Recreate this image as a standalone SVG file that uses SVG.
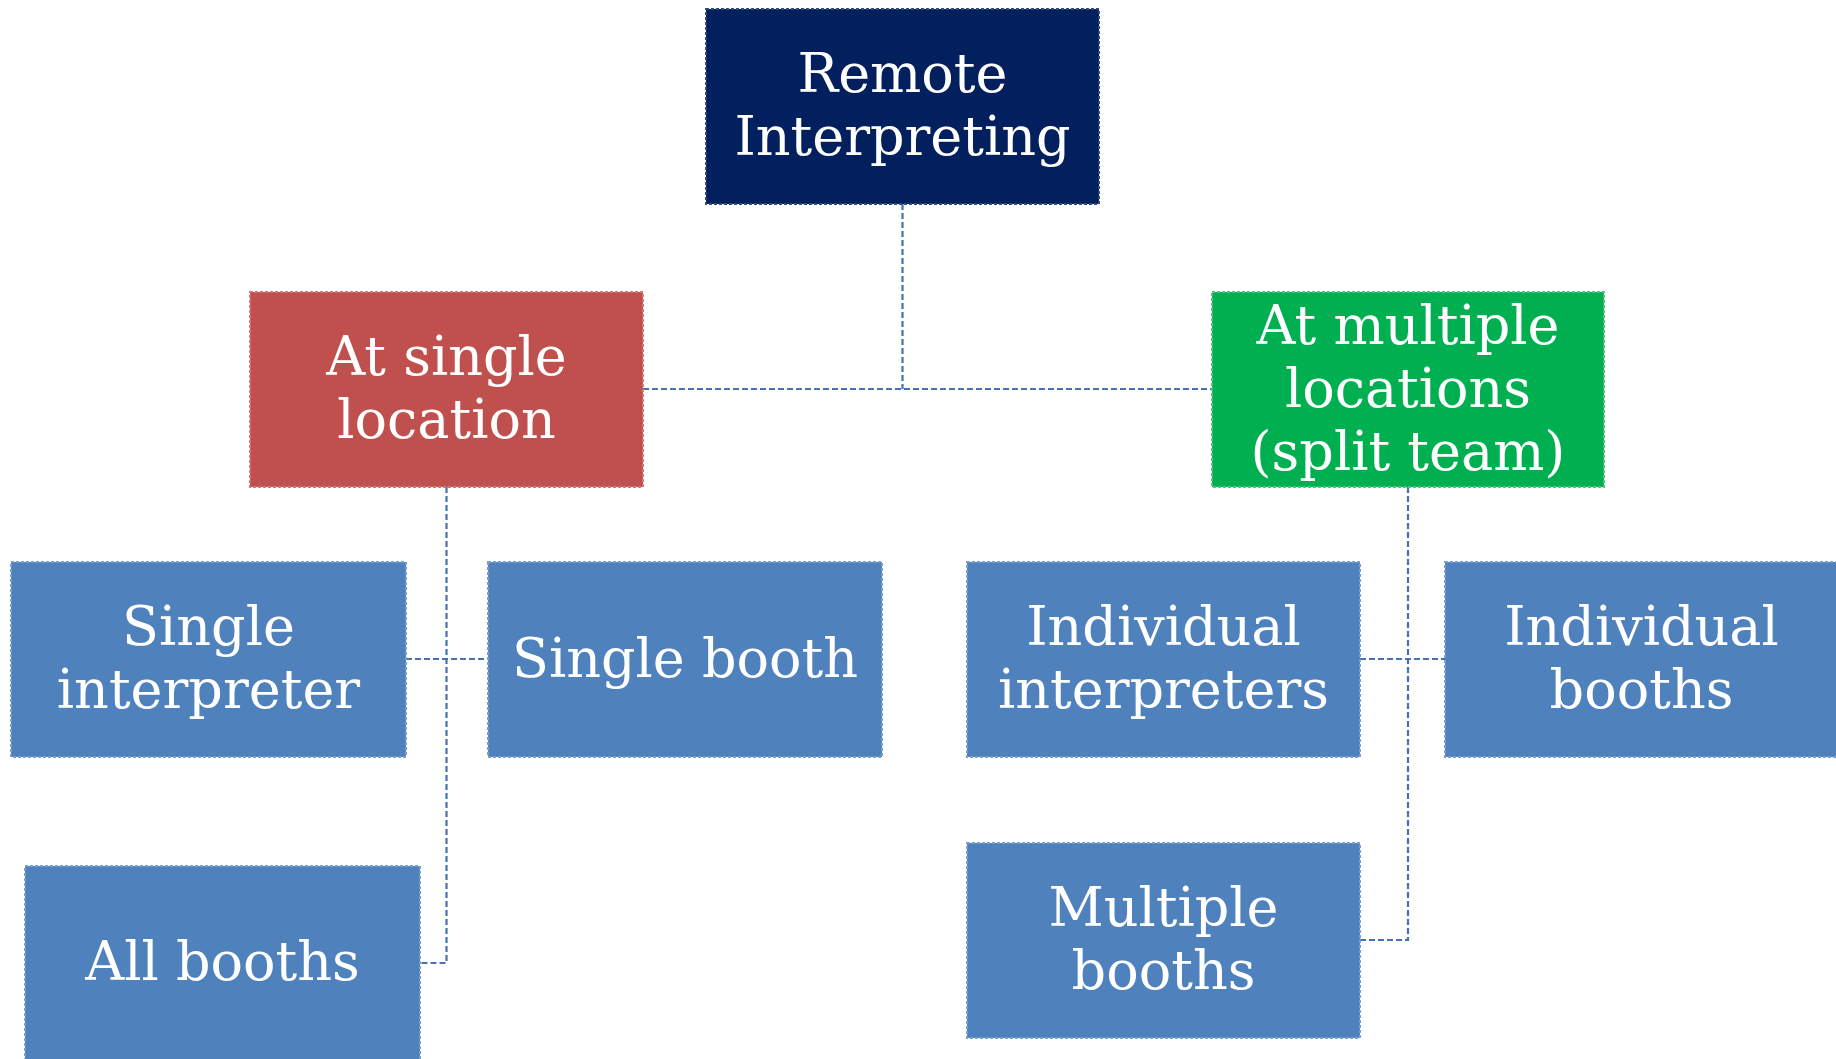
<svg xmlns="http://www.w3.org/2000/svg" width="1836" height="1059" viewBox="0 0 1836 1059">
<style>
.box{stroke-width:2;stroke-dasharray:3 2}
.navy{fill:#03205E;stroke:#2F4C80}
.red{fill:#C0504D;stroke:#D07A77}
.green{fill:#00B050;stroke:#4CC482}
.blue{fill:#4F81BD;stroke:#7A9FCF}
.t{font-family:"DejaVu Serif","Liberation Serif",serif;font-size:54px;fill:#FFFFFF;text-anchor:middle}
.c{fill:none;stroke:#4472B4;stroke-width:2.2;stroke-dasharray:6 3}
</style>
<rect width="1836" height="1059" fill="#FFFFFF"/>
<g id="connectors">
<path class="c" d="M902.5,204 V389 M643,389 H1212"/>
<path class="c" d="M446.5,487 V963 H420 M406,659 H488"/>
<path class="c" d="M1408,487 V940 H1360 M1360,659 H1445"/>
</g>
<g id="remote-interpreting">
<rect class="box navy" x="706" y="9" width="393" height="195"/>
<text class="t" x="902.5" y="92">Remote</text>
<text class="t" x="902.5" y="155">Interpreting</text>
</g>
<g id="at-single-location">
<rect class="box red" x="250" y="292" width="393" height="195"/>
<text class="t" x="446.5" y="375">At single</text>
<text class="t" x="446.5" y="438">location</text>
</g>
<g id="at-multiple-locations">
<rect class="box green" x="1212" y="292" width="392" height="195"/>
<text class="t" x="1408" y="344">At multiple</text>
<text class="t" x="1408" y="407">locations</text>
<text class="t" x="1408" y="470">(split team)</text>
</g>
<g id="single-interpreter">
<rect class="box blue" x="11" y="562" width="395" height="195"/>
<text class="t" x="208.5" y="645">Single</text>
<text class="t" x="208.5" y="708">interpreter</text>
</g>
<g id="single-booth">
<rect class="box blue" x="488" y="562" width="394" height="195"/>
<text class="t" x="685" y="676.5">Single booth</text>
</g>
<g id="individual-interpreters">
<rect class="box blue" x="967" y="562" width="393" height="195"/>
<text class="t" x="1163.5" y="645">Individual</text>
<text class="t" x="1163.5" y="708">interpreters</text>
</g>
<g id="individual-booths">
<rect class="box blue" x="1445" y="562" width="393" height="195"/>
<text class="t" x="1641.5" y="645">Individual</text>
<text class="t" x="1641.5" y="708">booths</text>
</g>
<g id="all-booths">
<rect class="box blue" x="25" y="866" width="395" height="195"/>
<text class="t" x="222.5" y="980">All booths</text>
</g>
<g id="multiple-booths">
<rect class="box blue" x="967" y="843" width="393" height="195"/>
<text class="t" x="1163.5" y="926">Multiple</text>
<text class="t" x="1163.5" y="989">booths</text>
</g>
</svg>
